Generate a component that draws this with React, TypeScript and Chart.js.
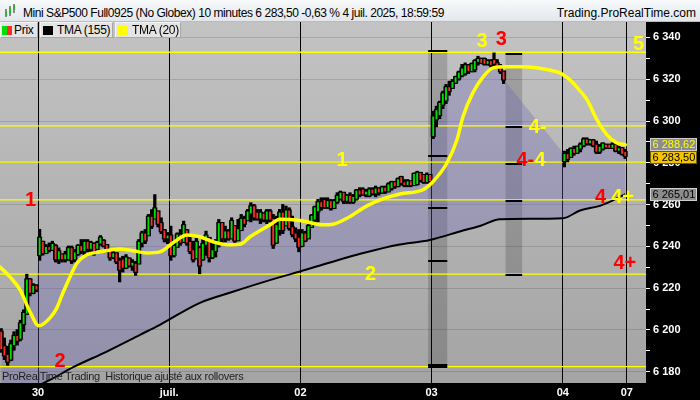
import React, { useEffect, useRef } from 'react';
import { Chart, registerables } from 'chart.js';

Chart.register(...registerables);

// ---------- DATA ----------
// session start slots (one slot = one 10-minute bar); 30 June first bar = slot 0
const sessionStarts = [-12, 0, 41, 82, 123, 164];

// [open, high, low, close]
const jun27 = [
  [6199, 6200.5, 6189.5, 6191], [6192, 6196, 6186, 6188], [6188, 6192, 6183.3, 6185],
  [6186, 6195, 6185.5, 6193], [6193, 6199, 6190.5, 6197], [6197, 6200, 6193, 6195],
  [6196, 6204.5, 6195, 6203], [6203, 6209.5, 6199.5, 6208], [6208, 6226.5, 6207.5, 6224],
  [6224, 6224.5, 6216.5, 6218], [6218, 6222, 6217.5, 6221], [6221, 6221.5, 6218.5, 6219.5],
];
const jun30 = [
  [6236, 6248, 6233.5, 6244], [6242, 6242.3, 6236, 6237], [6237, 6240.7, 6236.7, 6239.5],
  [6239.5, 6241.5, 6237.5, 6238.5], [6238.5, 6242.3, 6238.3, 6241], [6240, 6240.7, 6232.7, 6234],
  [6234, 6239.1, 6232, 6237.5], [6236, 6236, 6232.7, 6234], [6234, 6237.5, 6232.7, 6236],
  [6234, 6240, 6233.5, 6239], [6239, 6240, 6232, 6233.5], [6234, 6238.3, 6232.7, 6237],
  [6236.5, 6240.7, 6235.9, 6240], [6240, 6243.1, 6236.7, 6238], [6238, 6243.1, 6235.9, 6242],
  [6242, 6243.1, 6237.5, 6239], [6239, 6242.3, 6236.7, 6241.5], [6241, 6241.5, 6235.9, 6238],
  [6239, 6242.3, 6238.5, 6241.5], [6241.5, 6245, 6240.7, 6244], [6242.5, 6243.1, 6239.9, 6240.5],
  [6240.5, 6240.7, 6237.5, 6238], [6238, 6238.3, 6233.5, 6235], [6235, 6237.5, 6234.3, 6236.5],
  [6236.5, 6236.7, 6231.9, 6233], [6233, 6234.3, 6223.2, 6229], [6233.5, 6235.1, 6227.9, 6230],
  [6230, 6235.9, 6229.5, 6234.5], [6234, 6234.3, 6230.3, 6231], [6231, 6233.5, 6228.7, 6232],
  [6231.5, 6232.7, 6226.3, 6228], [6232, 6243.1, 6231.9, 6242], [6242, 6247.1, 6239.9, 6246],
  [6246, 6247.9, 6241.5, 6243], [6245.5, 6255.1, 6245.5, 6254], [6254, 6257.4, 6248.7, 6250],
  [6253.5, 6264.6, 6253.5, 6258], [6256.6, 6256.6, 6249.5, 6251], [6251, 6253.5, 6246.3, 6247.5],
  [6247.5, 6247.9, 6242.3, 6244], [6244, 6246.5, 6241.5, 6245],
];
const jul01 = [
  [6245, 6249.5, 6233.5, 6236], [6236, 6241.5, 6235.1, 6240], [6240, 6246.3, 6239.9, 6245.5],
  [6245.5, 6247.9, 6240.7, 6242], [6242.3, 6251.9, 6242.3, 6250], [6247.5, 6247.9, 6240.7, 6242],
  [6242, 6244.7, 6236.7, 6238], [6238, 6242.3, 6232.7, 6234], [6234.5, 6243.9, 6234.3, 6242],
  [6239, 6239.9, 6227.1, 6231], [6234, 6243.1, 6233.5, 6241], [6241, 6247.1, 6235.9, 6245],
  [6243.9, 6243.9, 6232.7, 6235], [6235, 6241.5, 6234.3, 6238], [6238, 6243.1, 6235.1, 6242],
  [6241, 6252.7, 6239.9, 6251], [6251, 6251.1, 6241.5, 6244], [6244, 6249.5, 6242.3, 6247],
  [6247, 6247.9, 6243.1, 6244], [6244, 6253.5, 6243.9, 6252], [6249.5, 6249.5, 6241.5, 6243],
  [6243.1, 6252.7, 6243.1, 6248], [6248, 6255.1, 6247.9, 6253], [6253, 6254.3, 6249.5, 6251],
  [6252.7, 6257.5, 6252.7, 6256.5], [6256, 6260.7, 6251.9, 6259], [6259, 6259.9, 6252.7, 6254],
  [6256, 6257.5, 6252.7, 6253.5], [6253.5, 6257.5, 6251.1, 6256], [6255.5, 6255.9, 6251.9, 6253],
  [6253, 6257.5, 6251.1, 6256.5], [6256.5, 6257.5, 6251.9, 6253], [6253, 6255.1, 6239.2, 6241],
  [6242, 6254.3, 6241.6, 6250], [6248, 6257.5, 6245.5, 6256], [6256, 6259.9, 6246.3, 6248],
  [6250.3, 6259.1, 6250.3, 6257], [6257, 6258.3, 6247.9, 6249], [6249, 6254.3, 6244.7, 6246],
  [6246, 6248.7, 6242.4, 6244], [6244, 6247.9, 6237.6, 6240],
];
const jul02 = [
  [6240.5, 6247.9, 6240, 6246], [6246, 6247.1, 6242.4, 6243], [6244, 6250.3, 6243.9, 6249.5],
  [6249.5, 6255.1, 6249.5, 6254.5], [6253, 6259.1, 6251.1, 6258.5], [6257, 6262.3, 6251.9, 6261],
  [6261, 6263.1, 6257.5, 6259], [6262, 6263.1, 6258.3, 6259], [6259, 6263.1, 6258.3, 6261.5],
  [6261.5, 6262.3, 6257.5, 6258.5], [6258.5, 6262.3, 6258.3, 6261.5], [6261.5, 6265.5, 6260.7, 6264],
  [6263, 6266.3, 6262.3, 6265.5], [6265.5, 6265.5, 6260.7, 6262], [6262, 6264.7, 6260.7, 6264],
  [6264, 6265.5, 6260.7, 6261.5], [6261.5, 6264.7, 6260.7, 6263.5], [6263, 6267.1, 6262.3, 6266.5],
  [6266.5, 6267.9, 6263.9, 6265], [6267, 6267.9, 6264.7, 6265], [6265, 6267.1, 6263.9, 6266],
  [6264.5, 6267.9, 6263.9, 6267], [6267, 6267.9, 6264.7, 6265.5], [6265.5, 6268.7, 6263.9, 6267.5],
  [6267.5, 6267.9, 6264.7, 6266], [6266, 6268.7, 6265.5, 6268], [6268, 6268.7, 6265.5, 6266.5],
  [6266.5, 6270.3, 6266.3, 6269.5], [6268, 6271, 6267.1, 6270.5], [6270.5, 6271, 6267.9, 6269],
  [6269, 6272.6, 6268.7, 6272], [6273, 6273.4, 6269.5, 6270.5], [6270.5, 6271.8, 6268.7, 6269.5],
  [6269.5, 6271.8, 6268.7, 6271], [6271, 6271, 6268.7, 6269.5], [6269.5, 6275, 6269.5, 6274.5],
  [6270, 6275.8, 6269.5, 6275], [6275, 6275, 6271, 6272], [6274, 6274.2, 6270.3, 6271],
  [6271, 6275, 6270.3, 6274], [6274, 6274.2, 6269.5, 6271.5],
];
const jul03 = [
  [6293, 6304.5, 6291.8, 6302], [6301, 6306.9, 6297.4, 6305], [6303, 6309.3, 6301.3, 6308.5],
  [6308, 6314.1, 6306.1, 6313], [6310, 6317.3, 6308.5, 6316], [6316, 6318.9, 6312.5, 6314.5],
  [6316, 6319.7, 6315.7, 6318.5], [6318.5, 6321.3, 6318.1, 6320.8], [6320.5, 6323.7, 6319.7, 6323],
  [6322, 6326.9, 6321.3, 6325], [6323, 6327.6, 6322.1, 6326.5], [6326.5, 6326.9, 6322.9, 6324],
  [6324, 6327.6, 6323.7, 6327], [6325, 6329.2, 6323.7, 6328.5], [6328.5, 6330.8, 6326.9, 6329.5],
  [6329.5, 6330, 6327.6, 6328], [6329.5, 6330, 6326.9, 6327.5], [6327.5, 6329.2, 6326.9, 6328.5],
  [6328.5, 6329.2, 6326.1, 6327], [6329, 6332.4, 6326.1, 6327.5], [6327.5, 6329.2, 6325.3, 6326],
  [6326, 6326.9, 6322.9, 6324], [6323.5, 6323.7, 6318.1, 6320],
];
const jul04 = [
  [6281, 6285.4, 6278.2, 6284], [6284, 6286.2, 6280.6, 6282], [6283, 6287, 6283, 6286.5],
  [6286.5, 6287.8, 6283.8, 6285], [6285, 6287.8, 6284.6, 6287.5], [6287, 6289.4, 6285.4, 6288.5],
  [6288.5, 6291.8, 6287.8, 6291], [6291, 6291.8, 6288.6, 6289.5], [6289.5, 6291, 6288.6, 6290.5],
  [6290.5, 6291, 6287.8, 6288.5], [6288.5, 6290.2, 6284.6, 6285.5], [6285.5, 6288.6, 6284.6, 6287.5],
  [6287, 6289.4, 6286.2, 6289], [6288.5, 6288.6, 6287, 6287.5], [6288.5, 6288.6, 6287, 6287.3],
  [6287.3, 6289.4, 6287, 6288.5], [6288.5, 6288.6, 6285.4, 6286], [6286, 6287.8, 6284.6, 6286.8],
  [6286.8, 6287, 6283.8, 6284.5], [6285, 6286.2, 6282.2, 6283.5],
];
const sessions = [jun27, jun30, jul01, jul02, jul03, jul04];

const dayTicks = [0, 41, 82, 123, 164, 184];
const dayLabels = ['30', 'juil.', '02', '03', '04', '07'];

const tma20Slots = [-11.9, -8.75, -5.6, -2.5, 0.3, 3.75, 5.9, 7.8, 10, 12.2, 15.3, 19.4, 25.6, 29.7, 34.1, 38.1, 42.2, 46.6, 50.6, 54.7, 59.1, 63.1, 66.3, 72.5, 75.6, 81.9, 89.1, 92.2, 96.6, 102.8, 106.9, 113.1, 120.3, 123.4, 127.8, 130.9, 132.8, 135.9, 139.1, 142.2, 146.6, 150.6, 156.3, 159.4, 163.1, 166.9, 169.4, 171.6, 174.7, 177.8, 180.9, 183.5];
const tma20Values = [6230.2, 6225.4, 6219.2, 6208.7, 6202.0, 6205.8, 6210.6, 6217.8, 6225.4, 6232.1, 6236.0, 6237.4, 6238.8, 6237.9, 6236.9, 6237.4, 6241.7, 6245.5, 6244.6, 6242.2, 6240.8, 6241.0, 6244.6, 6250.3, 6253.0, 6252.4, 6250.3, 6250.6, 6253.5, 6259.4, 6262.3, 6265.1, 6267.1, 6270.9, 6279.9, 6290.9, 6302.0, 6313.5, 6321.1, 6325.4, 6325.9, 6325.9, 6325.4, 6324.5, 6323.0, 6318.7, 6314.4, 6310.1, 6300.5, 6293.4, 6289.5, 6288.62];

const tma155Slots = [-12, 3.75, 11.0, 21.5, 31.9, 38.1, 50.6, 60.9, 75.6, 81.9, 91.25, 101.6, 112.2, 122.5, 132.8, 138.1, 144.4, 164.1, 169.4, 175.6, 180.3, 183.5];
const tma155Values = [6165, 6176.1, 6182.2, 6189.7, 6197.7, 6202.5, 6213.0, 6218.3, 6225.3, 6228.0, 6232.3, 6236.8, 6240.7, 6243.1, 6247.6, 6249.8, 6253.0, 6253.5, 6257.2, 6259.4, 6262.5, 6265.01];

const levelValues = [6332.9, 6297.7, 6280.3, 6262.3, 6226.7, 6182.5];

const bandSlots = [[121.9, 127.9], [146.1, 151.3]];
const bandRanges = [[6182.2, 6333.5], [6226.1, 6332.1]];
const bandDashes = [
  [6333.5, 6283.2, 6258.3, 6233.1, 6183.3, 6182.2],
  [6332.1, 6296.9, 6279.4, 6261.5, 6226.1],
];

const markTexts = ['1', '1', '2', '2', '3', '3', '4-', '4-', '4', '4', '4+', '4+', '5'];
const markColors = ['#ff0000', '#ffff00', '#ffff00', '#ff0000', '#ffff00', '#ff0000', '#ffff00', '#ff0000', '#ffff00', '#ff0000', '#ffff00', '#ff0000', '#ffff00'];
const markSlots = [-2.3, 95, 103.9, 6.9, 138.75, 144.8, 156.1, 152.3, 156.9, 175.8, 182.7, 183.4, 187.7];
const markValues = [6262.5, 6281.6, 6226.9, 6185.5, 6338.3, 6339.3, 6297.4, 6281.4, 6281.4, 6263.9, 6263.9, 6232.4, 6336.9];

// ---------- LAYOUT CONSTANTS ----------
const FONT = '"Liberation Sans", Arial, Helvetica, sans-serif';
const X_MIN = -11.875;
const X_MAX = 190;
const Y_MIN = 6174.64;
const Y_MAX = 6347.37;

function fmtPrice(v: number, dec: number) {
  const s = v.toFixed(dec);
  const [ip, fp] = s.split('.');
  const head = ip.slice(0, -3);
  const out = (head ? head + ' ' : '') + ip.slice(-3);
  return fp ? out + ',' + fp : out;
}

const bars = sessions.flatMap((s, k) =>
  s.map((b, j) => ({ x: sessionStarts[k] + j + 0.5, o: b[0], h: b[1], l: b[2], c: b[3] }))
);

const overlayPlugin = {
  id: 'prtOverlay',
  beforeDraw(chart: any) {
    const { ctx, chartArea: a } = chart;
    ctx.save();
    ctx.fillStyle = '#000';
    ctx.fillRect(0, 0, chart.width, chart.height);
    const g = ctx.createLinearGradient(0, a.top, 0, a.bottom);
    g.addColorStop(0, '#c3c3c3');
    g.addColorStop(1, '#a4a4a4');
    ctx.fillStyle = g;
    ctx.fillRect(a.left, a.top, a.right - a.left, a.bottom - a.top);
    ctx.restore();
  },
  beforeDatasetsDraw(chart: any) {
    const { ctx, scales } = chart;
    const xs = scales.x, ys = scales.y;
    ctx.save();
    ctx.fillStyle = 'rgba(0,0,0,0.17)';
    bandSlots.forEach((s, i) => {
      const x0 = xs.getPixelForValue(s[0]);
      const x1 = xs.getPixelForValue(s[1]);
      const y0 = ys.getPixelForValue(bandRanges[i][1]);
      const y1 = ys.getPixelForValue(bandRanges[i][0]);
      ctx.fillRect(x0, y0, x1 - x0, y1 - y0);
    });
    ctx.restore();
  },
  afterDatasetsDraw(chart: any) {
    const { ctx, scales, chartArea: a } = chart;
    const xs = scales.x, ys = scales.y;
    ctx.save();
    ctx.beginPath();
    ctx.rect(a.left, a.top, a.right - a.left, a.bottom - a.top);
    ctx.clip();
    ctx.strokeStyle = '#000';
    ctx.lineWidth = 2;
    bandSlots.forEach((s, i) => {
      const x0 = xs.getPixelForValue(s[0]);
      const x1 = xs.getPixelForValue(s[1]);
      bandDashes[i].forEach((v) => {
        const y = Math.round(ys.getPixelForValue(v));
        ctx.beginPath();
        ctx.moveTo(x0, y);
        ctx.lineTo(x1, y);
        ctx.stroke();
      });
    });
    ctx.font = `bold 20px ${FONT}`;
    ctx.textAlign = 'center';
    ctx.textBaseline = 'middle';
    markTexts.forEach((t, i) => {
      ctx.fillStyle = markColors[i];
      ctx.fillText(t, xs.getPixelForValue(markSlots[i]), ys.getPixelForValue(markValues[i]) + 1);
    });
    ctx.restore();
  },
  afterDraw(chart: any) {
    const { ctx, scales, chartArea: a } = chart;
    const ys = scales.y;
    const lastClose = bars[bars.length - 1].c;
    const boxes = [
      { v: tma20Values[tma20Values.length - 1], bg: '#8c8c8c', fg: '#ffff00', border: '#cfcfcf' },
      { v: lastClose, bg: '#f4c400', fg: '#000', border: '#6a5a00' },
      { v: tma155Values[tma155Values.length - 1], bg: '#8c8c8c', fg: '#000', border: '#cfcfcf' },
    ].map((b) => ({ ...b, y: ys.getPixelForValue(b.v) }));
    boxes.sort((p, q) => p.y - q.y);
    const H = 13;
    for (let i = 1; i < boxes.length; i++) {
      if (boxes[i].y - boxes[i - 1].y < H) boxes[i].y = boxes[i - 1].y + H;
    }
    ctx.save();
    ctx.font = `11px ${FONT}`;
    ctx.textBaseline = 'middle';
    ctx.textAlign = 'left';
    boxes.forEach((b) => {
      const x0 = a.right + 4.5;
      const top = Math.round(b.y - H / 2) + 0.5;
      ctx.fillStyle = b.bg;
      ctx.fillRect(x0, top, 46, H - 1);
      ctx.strokeStyle = b.border;
      ctx.lineWidth = 1;
      ctx.strokeRect(x0, top, 46, H - 1);
      ctx.fillStyle = b.fg;
      ctx.fillText(fmtPrice(b.v, 2), x0 + 2, top + H / 2);
    });
    ctx.restore();
  },
};

export default function App() {
  const ref = useRef<HTMLCanvasElement | null>(null);

  useEffect(() => {
    if (!ref.current) return;
    const green = '#00e000';
    const red = '#ff2a2a';

    const wickData = bars.map((b) => ({ x: b.x, y: [b.l - 0.2, b.h + 0.2] }));
    const bodyData = bars.map((b) => ({ x: b.x, y: [Math.min(b.o, b.c) - 0.5, Math.max(b.o, b.c) + 0.5] }));
    const innerBars = bars.filter((b) => Math.abs(b.c - b.o) > 0.8);
    const innerData = innerBars.map((b) => {
      const lo = Math.min(b.o, b.c), hi = Math.max(b.o, b.c);
      return { x: b.x, y: [lo, hi] };
    });
    const innerColors = innerBars.map((b) => (b.c >= b.o ? green : red));
    const closeData = bars.map((b) => ({ x: b.x, y: b.c }));

    const datasets: any[] = [
      {
        type: 'line', label: 'TMA (20)', order: 0,
        data: tma20Slots.map((s, i) => ({ x: s, y: tma20Values[i] })),
        borderColor: '#ffff00', borderWidth: 3.5, pointRadius: 0, fill: false,
        cubicInterpolationMode: 'monotone', borderCapStyle: 'round', borderJoinStyle: 'round',
      },
      {
        type: 'line', label: 'TMA (155)', order: 1,
        data: tma155Slots.map((s, i) => ({ x: s, y: tma155Values[i] })),
        borderColor: '#000', borderWidth: 2, pointRadius: 0, fill: false,
        cubicInterpolationMode: 'monotone',
      },
      {
        type: 'bar', label: 'inner', order: 2, grouped: false,
        data: innerData, backgroundColor: innerColors, barThickness: 1.2,
      },
      {
        type: 'bar', label: 'body', order: 3, grouped: false,
        data: bodyData, backgroundColor: '#000', barThickness: 4.4, minBarLength: 2,
      },
      {
        type: 'bar', label: 'wick', order: 4, grouped: false,
        data: wickData, backgroundColor: '#000', barThickness: 2.6,
      },
      ...levelValues.map((v) => ({
        type: 'line', label: 'level', order: 5,
        data: [{ x: X_MIN, y: v }, { x: X_MAX, y: v }],
        borderColor: '#ffff00', borderWidth: 1.3, pointRadius: 0, fill: false,
      })),
      {
        type: 'line', label: 'Prix', order: 6,
        data: closeData, borderColor: 'rgba(0,0,0,0)', borderWidth: 0, pointRadius: 0,
        fill: { target: 1, above: 'rgba(105,95,190,0.3)', below: 'rgba(105,95,190,0.3)' },
      },
    ];

    const chart = new Chart(ref.current, {
      type: 'bar',
      data: { datasets },
      options: {
        responsive: false,
        animation: false,
        events: [],
        layout: { padding: { top: 22, left: 0, right: 0, bottom: 0 } },
        plugins: {
          legend: { display: false },
          tooltip: { enabled: false },
          title: { display: false },
        },
        scales: {
          x: {
            type: 'linear',
            min: X_MIN,
            max: X_MAX,
            offset: false,
            border: { display: false },
            grid: { offset: false, color: '#000', lineWidth: 1, drawTicks: false },
            afterBuildTicks: (scale: any) => {
              scale.ticks = dayTicks.map((v) => ({ value: v }));
            },
            afterFit: (scale: any) => {
              scale.height = 17;
            },
            ticks: {
              autoSkip: false,
              maxRotation: 0,
              padding: 3,
              color: '#fff',
              font: { family: FONT, size: 11, weight: 'bold' },
              callback: (v: any) => {
                const i = dayTicks.indexOf(Number(v));
                return i >= 0 ? dayLabels[i] : '';
              },
            },
          },
          y: {
            type: 'linear',
            position: 'right',
            min: Y_MIN,
            max: Y_MAX,
            border: { display: false },
            grid: {
              color: (ctx: any) => (ctx.tick && Math.round(ctx.tick.value) % 20 === 0 ? 'rgba(0,0,0,0.13)' : 'rgba(0,0,0,0)'),
              tickColor: '#fff',
              tickLength: 4,
              lineWidth: 1,
            },
            afterFit: (scale: any) => {
              scale.width = 54;
            },
            ticks: {
              stepSize: 10,
              includeBounds: false,
              autoSkip: false,
              padding: 3,
              color: '#fff',
              font: { family: FONT, size: 11, weight: 'bold' },
              callback: (v: any) => {
                const n = Math.round(Number(v));
                return n % 20 === 0 ? fmtPrice(n, 0) : '';
              },
            },
          },
        },
      },
      plugins: [overlayPlugin],
    } as any);

    return () => chart.destroy();
  }, []);

  const legendItems = [
    { label: 'Prix', left: 0, width: 38, swatch: 'split' },
    { label: 'TMA (155)', left: 40, width: 73, swatch: '#000000' },
    { label: 'TMA (20)', left: 115, width: 66, swatch: '#ffff00' },
  ];

  return (
    <div style={{ position: 'absolute', left: 0, top: 0, width: 700, height: 400, overflow: 'hidden', fontFamily: FONT }}>
      <canvas ref={ref} width={700} height={400} style={{ display: 'block', width: 700, height: 400 }} />
      {/* title bar */}
      <div
        style={{
          position: 'absolute', left: 0, top: 0, width: 700, height: 21,
          background: 'linear-gradient(#f7f9fb, #e3e7ec)', borderBottom: '1px solid #b8bcc2',
        }}
      >
        <div style={{ position: 'absolute', left: 5, top: 9, width: 2, height: 8, background: '#8a8a8a' }} />
        <div style={{ position: 'absolute', left: 5, top: 11, width: 2, height: 5, background: '#2fb52f' }} />
        <div style={{ position: 'absolute', left: 9, top: 6, width: 2, height: 10, background: '#8a8a8a' }} />
        <div style={{ position: 'absolute', left: 9, top: 8, width: 2, height: 6, background: '#2fb52f' }} />
        <div style={{ position: 'absolute', left: 13, top: 4, width: 2, height: 9, background: '#8a8a8a' }} />
        <div style={{ position: 'absolute', left: 13, top: 5, width: 2, height: 5, background: '#2fb52f' }} />
        <div
          style={{
            position: 'absolute', left: 23, top: 6, lineHeight: '14px', fontSize: 12,
            letterSpacing: '-0.45px', color: '#000', whiteSpace: 'pre',
          }}
        >
          Mini S&amp;P500 Full0925 (No Globex) 10 minutes 6 283,50 -0,63 % 4 juil. 2025, 18:59:59
        </div>
        <div
          style={{
            position: 'absolute', right: 4, top: 6, lineHeight: '14px', fontSize: 12,
            color: '#000', whiteSpace: 'pre',
          }}
        >
          Trading.ProRealTime.com
        </div>
      </div>
      {/* legend */}
      {legendItems.map((it) => (
        <div
          key={it.label}
          style={{
            position: 'absolute', left: it.left, top: 22, width: it.width, height: 16, boxSizing: 'border-box',
            background: '#e4e4e4', borderTop: '1px solid #f4f4f4', borderLeft: '1px solid #f4f4f4',
            borderRight: '1px solid #a8a8a8', borderBottom: '1px solid #a8a8a8',
          }}
        >
          {it.swatch === 'split' ? (
            <div style={{ position: 'absolute', left: 1, top: 3, width: 10, height: 9, display: 'flex' }}>
              <div style={{ width: 5, height: 9, background: '#00e000' }} />
              <div style={{ width: 5, height: 9, background: '#ff2a2a' }} />
            </div>
          ) : (
            <div style={{ position: 'absolute', left: 2, top: 3, width: 10, height: 9, background: it.swatch }} />
          )}
          <div
            style={{
              position: 'absolute', left: it.swatch === 'split' ? 13 : 16, top: 0, lineHeight: '14px',
              fontSize: 12, color: '#000', whiteSpace: 'pre', letterSpacing: '-0.3px',
            }}
          >
            {it.label}
          </div>
        </div>
      ))}
      {/* footer */}
      <div
        style={{
          position: 'absolute', left: 2, top: 370, lineHeight: '13px', fontSize: 11,
          letterSpacing: '-0.3px', color: '#1e1e1e', whiteSpace: 'pre',
        }}
      >
        {'ProRealTime Trading  Historique ajusté aux rollovers'}
      </div>
    </div>
  );
}
